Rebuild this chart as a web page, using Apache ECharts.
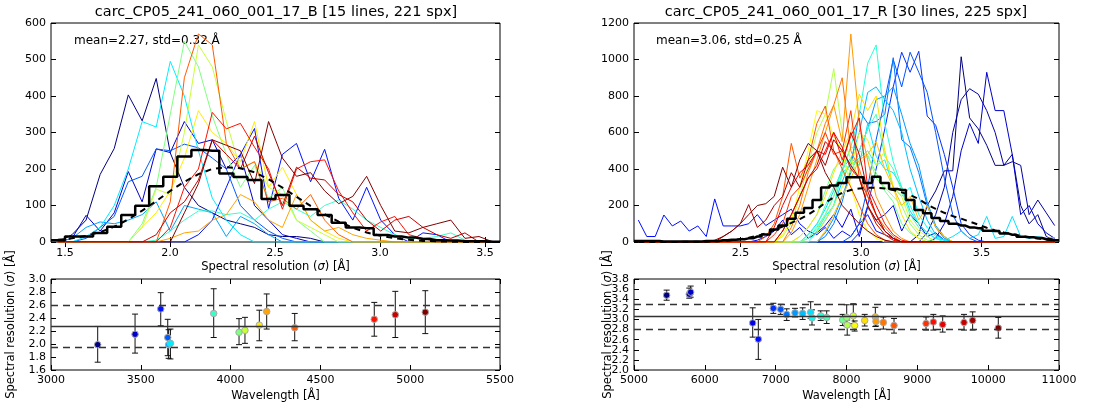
<!DOCTYPE html>
<html>
<head>
<meta charset="utf-8">
<script src="https://cdn.jsdelivr.net/npm/echarts@6/dist/echarts.min.js"></script>
<style>
  html, body { margin: 0; padding: 0; background: #fff; }
  #chart { width: 1112px; height: 408px; }
</style>
</head>
<body>
<div id="chart"></div>
<script>
// ---------- Blue arm (B): 15 arc lines ----------
const titleB = 'carc_CP05_241_060_001_17_B [15 lines, 221 spx]';
const statsB = { mean: 2.27, std: 0.32 };
const xRangeB = [1.433, 3.571];
const xTicksB = [1.5, 2.0, 2.5, 3.0, 3.5];
const yTicksResB = [1.6, 1.8, 2.0, 2.2, 2.4, 2.6, 2.8, 3.0];
// histogram bin centres (sigma, Å)
const binsB = [1.466, 1.533, 1.600, 1.667, 1.734, 1.801, 1.867, 1.934, 2.001, 2.068,
               2.135, 2.201, 2.268, 2.335, 2.402, 2.469, 2.535, 2.602, 2.669, 2.736,
               2.803, 2.870, 2.936, 3.003, 3.070, 3.137, 3.204, 3.270, 3.337, 3.404,
               3.471, 3.538];
// combined histogram (step) and fitted profile (dashed)
const totalB = [5, 15, 15, 25, 42, 74, 99, 153, 179, 234, 252, 250, 188, 178, 170, 118,
                129, 99, 90, 74, 53, 40, 38, 19, 15, 12, 8, 5, 4, 2, 2, 1];
const fitB = [6, 10, 17, 27, 42, 62, 86, 112, 140, 165, 186, 200, 205, 202, 191, 172,
              149, 124, 99, 76, 56, 39, 26, 17, 10, 6, 3, 2, 1, 0, 0, 0];
// per-line histograms: first bin index + counts
const startB = [1, 1, 10, 2, 1, 2, 6, 5, 6, 5, 7, 7, 7, 6, 8];
const countsB = [
  [20, 60, 185, 256, 403, 332, 448, 244, 150, 100, 80, 60, 50, 40, 20, 15, 15, 10, 0],
  [10, 73, 30, 80, 193, 110, 255, 245, 330, 270, 280, 200, 240, 100, 60, 20, 10, 0],
  [20, 60, 150, 240, 311, 92, 240, 270, 165, 254, 120, 60, 150, 60, 20, 0, 25, 20, 0],
  [10, 40, 70, 165, 180, 255, 250, 268, 258, 230, 200, 100, 60, 30, 10, 0],
  [10, 40, 55, 50, 60, 75, 110, 30, 100, 90, 80, 15, 70, 50, 20, 0],
  [15, 40, 100, 200, 330, 315, 495, 400, 250, 120, 60, 20, 0],
  [0, 5, 30, 60, 85, 85, 75, 80, 60, 90, 110, 90, 70, 100, 115, 90, 60, 40, 20, 10, 10, 15, 25, 5, 0],
  [0, 50, 150, 350, 550, 480, 345, 240, 150, 210, 120, 150, 60, 30, 0],
  [40, 145, 130, 300, 540, 480, 330, 200, 220, 150, 130, 60, 40, 20, 0],
  [0, 40, 80, 140, 230, 360, 300, 270, 220, 330, 150, 205, 130, 60, 30, 10, 0],
  [0, 10, 25, 30, 60, 75, 130, 110, 60, 40, 130, 60, 30, 40, 20, 10, 5, 0],
  [0, 110, 450, 570, 540, 270, 200, 220, 110, 120, 90, 130, 60, 20, 0],
  [0, 40, 150, 200, 355, 310, 325, 260, 200, 90, 200, 220, 225, 140, 80, 30, 55, 70, 20, 10, 0],
  [0, 20, 80, 110, 170, 280, 240, 200, 290, 190, 100, 205, 175, 170, 130, 110, 60, 30, 60, 70, 40, 20, 10, 25, 0],
  [0, 80, 160, 280, 265, 250, 160, 330, 230, 180, 190, 140, 105, 125, 180, 100, 30, 25, 40, 50, 60, 10, 15, 0]
];
// per-line resolution vs wavelength
const waveB = [3260, 3468, 3611, 3650, 3655, 3665, 3906, 4047, 4080, 4160, 4201, 4357, 4800, 4917, 5084];
const sigmaB = [1.99, 2.15, 2.54, 2.10, 1.99, 2.01, 2.47, 2.18, 2.21, 2.29, 2.50, 2.25, 2.38, 2.45, 2.49];
const sigLoB = [1.72, 1.86, 2.28, 1.82, 1.78, 1.77, 2.10, 1.99, 2.01, 2.05, 2.23, 2.05, 2.12, 2.10, 2.16];
const sigHiB = [2.27, 2.46, 2.79, 2.38, 2.22, 2.23, 2.85, 2.39, 2.41, 2.52, 2.77, 2.47, 2.64, 2.81, 2.82];

// ---------- Red arm (R): 30 arc lines ----------
const titleR = 'carc_CP05_241_060_001_17_R [30 lines, 225 spx]';
const statsR = { mean: 3.06, std: 0.25 };
const xRangeR = [2.058, 3.822];
const xTicksR = [2.5, 3.0, 3.5];
const yTicksResR = [2.0, 2.2, 2.4, 2.6, 2.8, 3.0, 3.2, 3.4, 3.6, 3.8];
const binsR = [2.076, 2.111, 2.146, 2.182, 2.217, 2.252, 2.287, 2.323, 2.358, 2.393,
               2.428, 2.464, 2.499, 2.534, 2.570, 2.605, 2.640, 2.675, 2.711, 2.746,
               2.781, 2.817, 2.852, 2.887, 2.922, 2.958, 2.993, 3.028, 3.063, 3.099,
               3.134, 3.169, 3.204, 3.240, 3.275, 3.310, 3.346, 3.381, 3.416, 3.451,
               3.487, 3.522, 3.557, 3.593, 3.628, 3.663, 3.698, 3.734, 3.769, 3.804];
const totalR = [5, 5, 5, 3, 3, 3, 3, 3, 5, 5, 10, 12, 15, 20, 30, 41, 69, 91, 127, 160,
                186, 230, 298, 310, 323, 355, 355, 323, 358, 323, 290, 285, 230, 175, 158, 132, 115, 100, 90, 80,
                75, 62, 60, 47, 40, 29, 26, 22, 15, 10];
const fitR = [0, 0, 0, 0, 0, 1, 1, 1, 2, 3, 6, 10, 15, 23, 34, 48, 65, 85, 105, 125,
              150, 180, 215, 245, 270, 285, 293, 297, 297, 293, 285, 272, 258, 235, 205, 182, 160, 142, 128, 112,
              95, 78, 63, 52, 43, 34, 26, 19, 13, 9];
const startR = [33, 34, 35, 14, 0, 26, 25, 22, 22, 21, 20, 21, 20, 20, 19,
                20, 17, 21, 17, 19, 22, 18, 18, 15, 16, 17, 16, 17, 9, 10];
const countsR = [
  [40, 200, 280, 390, 390, 1015, 680, 620, 530, 420, 420, 480, 200, 100, 150, 30, 10],
  [50, 150, 300, 600, 780, 840, 810, 720, 600, 420, 440, 420, 150, 230, 160, 90],
  [20, 100, 250, 500, 650, 540, 930, 720, 720, 480, 150, 200, 100, 50, 20],
  [10, 30, 60, 120, 40, 80, 20, 50, 90, 150, 80, 180, 30, 190, 120, 150, 200, 60, 150, 100, 30, 50, 10, 0],
  [120, 30, 30, 148, 88, 115, 60, 88, 30, 236, 88, 88, 88, 100, 150, 90, 120, 150, 180, 100, 60, 40, 80, 20, 60, 30, 100, 150, 60, 40, 20, 0],
  [50, 200, 400, 620, 850, 1040, 930, 1045, 690, 640, 480, 300, 100, 40, 10],
  [30, 100, 300, 560, 780, 1000, 850, 1040, 930, 820, 600, 350, 150, 60, 20],
  [30, 100, 220, 400, 720, 650, 660, 700, 1010, 560, 520, 380, 200, 80, 20, 0],
  [50, 130, 250, 380, 500, 620, 780, 800, 850, 700, 540, 420, 220, 90, 30],
  [50, 120, 200, 330, 450, 600, 820, 850, 780, 720, 600, 400, 250, 120, 40, 10],
  [40, 100, 180, 280, 400, 460, 420, 650, 470, 400, 380, 300, 170, 100, 50, 20, 10, 30, 60, 20, 40, 140, 20, 30, 140, 30, 20, 30, 20, 25],
  [60, 140, 200, 380, 420, 460, 500, 420, 450, 300, 250, 300, 150, 80, 30, 10],
  [20, 80, 150, 250, 400, 520, 700, 980, 1080, 650, 440, 300, 200, 100, 50, 20],
  [40, 90, 200, 300, 380, 520, 500, 620, 700, 470, 400, 280, 150, 80, 30],
  [30, 80, 150, 280, 400, 450, 380, 500, 470, 380, 280, 220, 100, 50, 20],
  [20, 70, 150, 250, 360, 440, 420, 480, 350, 300, 250, 200, 100, 40, 10],
  [30, 100, 250, 420, 600, 700, 950, 600, 450, 350, 200, 100, 40, 10],
  [50, 120, 200, 300, 400, 600, 560, 420, 500, 300, 250, 120, 60, 30],
  [40, 120, 300, 500, 720, 700, 580, 500, 300, 150, 60, 20],
  [30, 80, 150, 250, 380, 500, 600, 810, 720, 800, 500, 300, 150, 60, 20],
  [60, 150, 250, 350, 450, 480, 550, 400, 300, 200, 250, 120, 200, 80, 30],
  [50, 150, 300, 450, 600, 750, 550, 1140, 650, 450, 250, 150, 60, 20],
  [80, 200, 380, 500, 650, 750, 900, 500, 400, 250, 150, 80, 30],
  [30, 100, 250, 540, 350, 450, 650, 745, 500, 400, 300, 200, 100, 40, 10],
  [40, 100, 250, 300, 400, 500, 600, 480, 500, 720, 350, 250, 150, 60, 20],
  [60, 150, 250, 350, 400, 500, 600, 450, 580, 680, 300, 200, 100, 40, 10],
  [80, 200, 300, 380, 420, 500, 480, 600, 520, 400, 350, 200, 100, 40, 10],
  [60, 150, 250, 350, 420, 550, 500, 420, 600, 480, 280, 150, 60, 20],
  [10, 30, 60, 100, 205, 80, 120, 200, 250, 380, 300, 450, 500, 420, 560, 500, 420, 350, 200, 120, 60, 20],
  [30, 60, 100, 150, 200, 210, 250, 410, 300, 450, 540, 500, 380, 300, 200, 150, 100, 60, 30, 10]
];
const waveR = [5461, 5780, 5800, 6676, 6755, 6967, 7071, 7156, 7273, 7381,
               7494, 7513, 7636, 7720, 7946, 8003, 8010, 8096, 8115, 8257,
               8407, 8416, 8520, 8671, 9123, 9226, 9358, 9659, 9781, 10143];
const sigmaR = [3.48, 3.50, 3.54, 2.93, 2.61, 3.22, 3.20, 3.10, 3.13, 3.12,
                3.14, 3.03, 3.07, 3.04, 2.99, 3.04, 2.89, 3.07, 2.88, 2.98,
                3.05, 2.96, 2.94, 2.88, 2.92, 2.95, 2.90, 2.94, 2.98, 2.83];
const sigLoR = [3.38, 3.42, 3.44, 2.65, 2.21, 3.12, 3.10, 2.98, 3.05, 3.00,
                3.02, 2.89, 2.98, 2.92, 2.88, 2.86, 2.69, 2.92, 2.77, 2.87,
                2.86, 2.87, 2.81, 2.73, 2.79, 2.79, 2.75, 2.79, 2.79, 2.63];
const sigHiR = [3.58, 3.62, 3.66, 3.23, 3.00, 3.32, 3.30, 3.21, 3.22, 3.23,
                3.35, 3.19, 3.17, 3.17, 3.10, 3.29, 2.99, 3.31, 2.97, 3.10,
                3.24, 3.05, 3.05, 3.02, 3.05, 3.10, 3.07, 3.10, 3.15, 3.04];

// ---------- styling helpers ----------
const FONT = 'DejaVu Sans';
const TICK = 11;

// matplotlib "jet" colour map, used to colour lines by wavelength order
function jet(t) {
  const c = v => Math.round(255 * Math.max(0, Math.min(1, v)));
  return 'rgb(' + c(1.5 - Math.abs(4 * t - 3)) + ',' + c(1.5 - Math.abs(4 * t - 2)) + ',' + c(1.5 - Math.abs(4 * t - 1)) + ')';
}

const grids = [
  { left: 51, top: 23, width: 449, height: 219 },
  { left: 51, top: 279, width: 449, height: 91 },
  { left: 634, top: 23, width: 425, height: 219 },
  { left: 634, top: 279, width: 425, height: 91 }
].map(g => Object.assign(g, { show: true, borderColor: '#000', borderWidth: 1, backgroundColor: 'rgba(0,0,0,0)' }));

const tickStyle = { show: true, inside: true, length: 5, lineStyle: { color: '#000', width: 1 } };
const labelStyle = { color: '#000', fontFamily: FONT, fontSize: TICK, hideOverlap: false, showMinLabel: true, showMaxLabel: true };
const nameStyle = {
  color: '#000', fontFamily: FONT, fontSize: 11.5,
  rich: { i: { fontStyle: 'italic', fontFamily: FONT, fontSize: 11.5, color: '#000' } }
};
const sigmaName = 'Spectral resolution ({i|σ}) [Å]';

function axisBase(extra) {
  return Object.assign({
    type: 'value', axisLine: { show: false }, splitLine: { show: false },
    nameMoveOverlap: false,
    axisTick: Object.assign({}, tickStyle), axisLabel: Object.assign({}, labelStyle)
  }, extra);
}
const fmt1 = v => (+v).toFixed(1);
const fmt0 = v => String(Math.round(v));

function xTop(gi, range, ticks) {
  return axisBase({
    gridIndex: gi, min: range[0], max: range[1],
    axisTick: Object.assign({}, tickStyle, { customValues: ticks }),
    axisLabel: Object.assign({}, labelStyle, { customValues: ticks, formatter: fmt1, margin: 6 }),
    name: sigmaName, nameLocation: 'middle', nameGap: 19, nameTextStyle: nameStyle
  });
}
function xBottom(gi, min, max, step) {
  return axisBase({
    gridIndex: gi, min: min, max: max, interval: step,
    axisLabel: Object.assign({}, labelStyle, { formatter: fmt0, margin: 5 }),
    name: 'Wavelength [Å]', nameLocation: 'middle', nameGap: 20, nameTextStyle: nameStyle
  });
}
function yRes(gi, ticks, gap, ownLabels) {
  return axisBase({
    gridIndex: gi, min: ticks[0], max: ticks[ticks.length - 1],
    axisTick: Object.assign({}, tickStyle, { customValues: ticks }),
    axisLabel: Object.assign({}, labelStyle, { show: !ownLabels, customValues: ticks, formatter: fmt1, margin: 5 }),
    name: sigmaName, nameLocation: 'middle', nameGap: gap, nameRotate: 90, nameTextStyle: nameStyle
  });
}
function mirror(base, pos) {
  return Object.assign({}, base, {
    position: pos, name: '', axisLabel: Object.assign({}, base.axisLabel, { show: false })
  });
}

const x0 = xTop(0, xRangeB, xTicksB);
const x1 = xBottom(1, 3000, 5500, 500);
const x2 = xTop(2, xRangeR, xTicksR);
const x3 = xBottom(3, 5000, 11000, 1000);
const y0 = axisBase({ gridIndex: 0, min: 0, max: 600, interval: 100,
  axisLabel: Object.assign({}, labelStyle, { formatter: fmt0, margin: 5 }) });
const y1 = yRes(1, yTicksResB, 34, false);
const y2 = axisBase({ gridIndex: 2, min: 0, max: 1200, interval: 200,
  axisLabel: Object.assign({}, labelStyle, { formatter: fmt0, margin: 5 }) });
// the red-arm resolution labels sit closer than their boxes, so they are placed as texts below
const y3 = yRes(3, yTicksResR, 20, true);

const xAxes = [x0, x1, x2, x3, mirror(x0, 'top'), mirror(x1, 'top'), mirror(x2, 'top'), mirror(x3, 'top')];
const yAxes = [y0, y1, y2, y3, mirror(y0, 'right'), mirror(y1, 'right'), mirror(y2, 'right'), mirror(y3, 'right')];

// ---------- series ----------
const series = [];

function expand(bins, start, counts) {
  return bins.map((x, k) => {
    const j = k - start;
    return [x, (j >= 0 && j < counts.length) ? counts[j] : 0];
  });
}

function histPanel(ax, bins, starts, counts, total, fit, range) {
  const n = counts.length;
  counts.forEach((c, i) => {
    series.push({
      type: 'line', xAxisIndex: ax, yAxisIndex: ax, silent: true, animation: false,
      showSymbol: false, symbol: 'none', z: 2,
      data: expand(bins, starts[i], c),
      lineStyle: { width: 1, color: jet(i / (n - 1)) }
    });
  });
  // combined histogram drawn as steps over the full bin range
  const stepData = [[range[0], total[0]]].concat(bins.map((x, k) => [x, total[k]]), [[range[1], total[total.length - 1]]]);
  series.push({
    type: 'line', xAxisIndex: ax, yAxisIndex: ax, silent: true, animation: false,
    showSymbol: false, symbol: 'none', step: 'middle', z: 4,
    data: stepData, lineStyle: { width: 2.5, color: '#000' }
  });
  series.push({
    type: 'line', xAxisIndex: ax, yAxisIndex: ax, silent: true, animation: false,
    showSymbol: false, symbol: 'none', z: 5,
    data: bins.map((x, k) => [x, fit[k]]),
    lineStyle: { width: 2, color: '#000', type: [6, 5] }
  });
}

function resPanel(ax, waves, sig, lo, hi, stats) {
  const n = waves.length;
  series.push({
    type: 'line', xAxisIndex: ax, yAxisIndex: ax, silent: true, animation: false,
    data: [], z: 1,
    markLine: {
      silent: true, symbol: 'none', animation: false, label: { show: false },
      data: [
        { yAxis: stats.mean, lineStyle: { type: 'solid', color: '#333', width: 1.3 } },
        { yAxis: +(stats.mean - stats.std).toFixed(2), lineStyle: { type: [7, 5], color: '#333', width: 1.3 } },
        { yAxis: +(stats.mean + stats.std).toFixed(2), lineStyle: { type: [7, 5], color: '#333', width: 1.3 } }
      ]
    }
  });
  series.push({
    type: 'custom', xAxisIndex: ax, yAxisIndex: ax, silent: true, animation: false, z: 3,
    data: waves.map((w, i) => [w, lo[i], hi[i]]),
    encode: { x: 0, y: [1, 2] },
    renderItem: (params, api) => {
      const a = api.coord([api.value(0), api.value(1)]);
      const b = api.coord([api.value(0), api.value(2)]);
      const cw = 3;
      const st = { stroke: '#111', lineWidth: 1 };
      return {
        type: 'group', children: [
          { type: 'line', shape: { x1: a[0], y1: a[1], x2: b[0], y2: b[1] }, style: st },
          { type: 'line', shape: { x1: a[0] - cw, y1: a[1], x2: a[0] + cw, y2: a[1] }, style: st },
          { type: 'line', shape: { x1: b[0] - cw, y1: b[1], x2: b[0] + cw, y2: b[1] }, style: st }
        ]
      };
    }
  });
  series.push({
    type: 'scatter', xAxisIndex: ax, yAxisIndex: ax, silent: true, animation: false, z: 4,
    symbolSize: 6.5,
    data: waves.map((w, i) => ({ value: [w, sig[i]], itemStyle: { color: jet(i / (n - 1)) } })),
    itemStyle: { borderColor: '#aaa', borderWidth: 1, opacity: 1 }
  });
}

histPanel(0, binsB, startB, countsB, totalB, fitB, xRangeB);
resPanel(1, waveB, sigmaB, sigLoB, sigHiB, statsB);
histPanel(2, binsR, startR, countsR, totalR, fitR, xRangeR);
resPanel(3, waveR, sigmaR, sigLoR, sigHiR, statsR);

const titleStyle = { color: '#000', fontFamily: FONT, fontSize: 14.5, fontWeight: 'normal' };
const statText = s => 'mean=' + s.mean.toFixed(2) + ', std=' + s.std.toFixed(2) + ' Å';

const baseGraphic = [
  { type: 'text', left: 74, top: 35, silent: true,
    style: { text: statText(statsB), fill: '#000', font: '12px "DejaVu Sans"' } },
  { type: 'text', left: 656, top: 35, silent: true,
    style: { text: statText(statsR), fill: '#000', font: '12px "DejaVu Sans"' } }
];

const chart = echarts.init(document.getElementById('chart'), null, { renderer: 'canvas' });
chart.setOption({
  backgroundColor: '#fff',
  animation: false,
  textStyle: { fontFamily: FONT },
  title: [
    { text: titleB, left: 276, top: 5, textAlign: 'center', textStyle: titleStyle, padding: 0 },
    { text: titleR, left: 846, top: 5, textAlign: 'center', textStyle: titleStyle, padding: 0 }
  ],
  graphic: baseGraphic,
  grid: grids,
  xAxis: xAxes,
  yAxis: yAxes,
  series: series
});

// tick labels for the red-arm resolution axis, positioned through the axis scale
const axisX = chart.convertToPixel({ xAxisIndex: 3 }, 5000);
const tickTexts = yTicksResR.map(v => ({
  type: 'text', silent: true,
  x: axisX - 5, y: chart.convertToPixel({ yAxisIndex: 3 }, v),
  style: { text: v.toFixed(1), fill: '#000', font: TICK + 'px "DejaVu Sans"', align: 'right', verticalAlign: 'middle' }
}));
chart.setOption({ graphic: baseGraphic.concat(tickTexts) }, { replaceMerge: ['graphic'] });
</script>
</body>
</html>
